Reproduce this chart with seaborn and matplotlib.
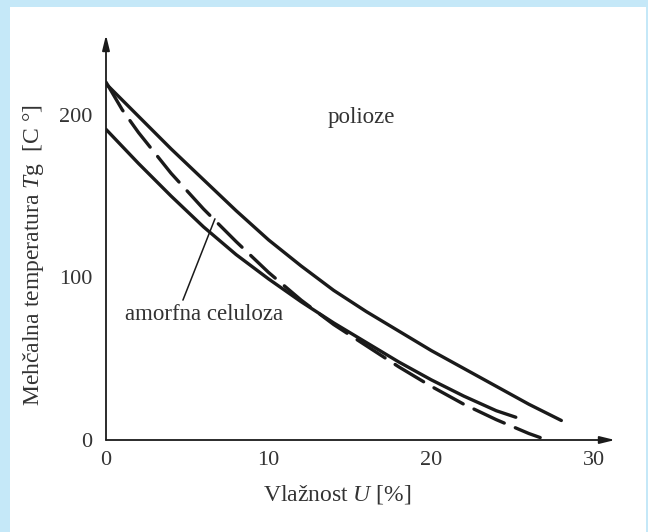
import matplotlib
matplotlib.use("Agg")
import numpy as np
import pandas as pd
import matplotlib.pyplot as plt
import seaborn as sns
from matplotlib.patches import Rectangle

# ---- data ----
polioze_x = [0, 2, 4, 6, 8, 10, 12, 14, 16, 18, 20, 22, 24, 26, 28]
polioze_y = [219, 199, 179, 160, 141, 123, 107, 92, 79, 67, 55, 44, 33, 22, 12]

celuloza_x = [0, 2, 4, 6, 8, 10, 12, 14, 16, 18, 20, 22, 24, 25.2]
celuloza_y = [191, 170, 150, 131, 114, 99, 85, 72, 60, 48, 37, 27, 18, 14]

dashed_x = [0, 1, 2, 4, 6, 8, 10, 12, 14, 16, 18, 20, 22, 24, 26, 26.7]
dashed_y = [220, 203, 189, 164, 142, 122, 103, 86, 71, 58, 45, 33, 22, 12.5, 4, 1.5]

x_ticks = [0, 10, 20, 30]
y_ticks = [0, 100, 200]
x_label = "Vlažnost $\\mathit{U}$ [%]"
y_label = "Mehčalna temperatura $\\mathit{T}$g  [C °]"
label_polioze = "polioze"
label_celuloza = "amorfna celuloza"

# ---- style ----
sns.set_style("white")
plt.rcParams["font.family"] = ["Liberation Serif", "DejaVu Serif"]
plt.rcParams["mathtext.fontset"] = "custom"
plt.rcParams["mathtext.rm"] = "Liberation Serif"
plt.rcParams["mathtext.it"] = "Liberation Serif:italic"

W, H = 648, 532
TXT = "#333333"
INK = "#1a1a1a"

fig = plt.figure(figsize=(W / 100, H / 100), dpi=100, facecolor="#c5e8f8")
fig.add_artist(Rectangle((10 / W, 0), 636 / W, 1 - 7 / H, transform=fig.transFigure,
                         facecolor="white", edgecolor="none", zorder=-5))

x0, x1 = 106, 615
y0, y1 = 440, 35
ax = fig.add_axes([x0 / W, 1 - y0 / H, (x1 - x0) / W, (y0 - y1) / H])
ax.set_facecolor("none")

sns.lineplot(x=polioze_x, y=polioze_y, ax=ax, color=INK, lw=2.4,
             solid_capstyle="round", solid_joinstyle="round")
sns.lineplot(x=celuloza_x, y=celuloza_y, ax=ax, color=INK, lw=2.4,
             solid_capstyle="round", solid_joinstyle="round")
sns.lineplot(x=dashed_x, y=dashed_y, ax=ax, color=INK, lw=2.4,
             linestyle=(0, (10, 3.6)), dash_capstyle="round")

ax.set_xlim(0, 31.3)
ax.set_ylim(0, 249)
for s in ax.spines.values():
    s.set_visible(False)

# axis arrows
arrow = dict(arrowstyle="-|>,head_length=0.9,head_width=0.22", lw=1.3,
             color=INK, shrinkA=0, shrinkB=0)
ax.annotate("", xy=(31.3, 0), xytext=(0, 0), arrowprops=arrow, annotation_clip=False)
ax.annotate("", xy=(0, 249), xytext=(0, 0), arrowprops=arrow, annotation_clip=False)

ax.set_xticks(x_ticks)
ax.set_yticks(y_ticks)
ax.tick_params(axis="both", direction="in", length=10, width=1.2, color=INK,
               labelsize=16, labelcolor=TXT)
ax.tick_params(axis="x", pad=8)
ax.tick_params(axis="y", pad=10)
ax.set_xlabel("")
ax.set_ylabel("")

fig.text(337 / W, 1 - 495 / H, x_label, ha="center", va="center",
         fontsize=17, color=TXT)
fig.text(34 / W, 1 - 255 / H, y_label, ha="center", va="center",
         rotation=90, fontsize=17, color=TXT)

ax.text(15.7, 198, label_polioze, ha="center", va="center", fontsize=16.5, color=TXT)
ax.text(6.0, 77, label_celuloza, ha="center", va="center", fontsize=16.5, color=TXT)
ax.plot([4.73, 6.7], [86, 136], color=INK, lw=1.1)

fig.savefig("out.png", dpi=100, facecolor=fig.get_facecolor())
